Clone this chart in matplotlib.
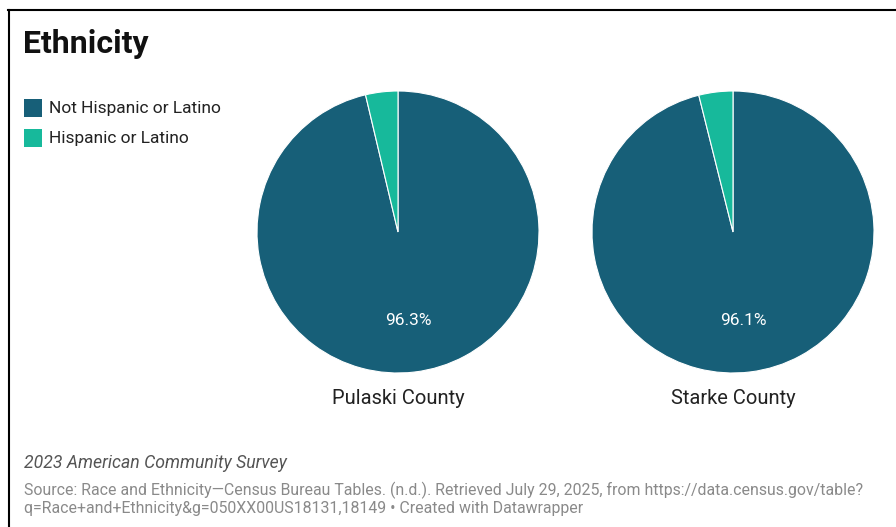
import numpy as np
import matplotlib.pyplot as plt
from matplotlib.lines import Line2D
from matplotlib.patches import Rectangle

plt.rcParams['font.family'] = ['Roboto', 'DejaVu Sans']

counties = ['Pulaski County', 'Starke County']
categories = ['Not Hispanic or Latino', 'Hispanic or Latino']
not_hispanic = [96.3, 96.1]
hispanic = [3.7, 3.9]
colors = ['#175f78', '#17b99b']

W, H = 896, 527
fig = plt.figure(figsize=(W / 100, H / 100), dpi=100)

def px_axes(cx, cy, r):
    # axes box in pixel coords (top-left origin)
    return fig.add_axes([(cx - r) / W, (H - cy - r) / H, 2 * r / W, 2 * r / H])

centers = [(398, 232), (733, 232)]
for i, (cx, cy) in enumerate(centers):
    ax = px_axes(cx, cy, 141)
    vals = [not_hispanic[i], hispanic[i]]
    wedges, _ = ax.pie(vals, colors=colors, startangle=90, counterclock=False,
                       radius=1, wedgeprops=dict(edgecolor='white', linewidth=0.8))
    # label for the big slice
    w = wedges[0]
    mid = np.deg2rad((w.theta1 + w.theta2) / 2)
    ax.text(0.63 * np.cos(mid), 0.63 * np.sin(mid), f'{vals[0]:.1f}%',
            ha='center', va='center', color='white', fontsize=12.5)
    ax.set_xlim(-1, 1)
    ax.set_ylim(-1, 1)
    ax.set_aspect('equal')
    ax.axis('off')
    fig.text(cx / W, 1 - 398 / H, counties[i], ha='center', va='center',
             fontsize=14.5, color='#222222')

# title
fig.text(23 / W, 1 - 44 / H, 'Ethnicity', fontsize=23, fontweight='bold',
         ha='left', va='center', color='#111111')

# legend
for j, (lab, c) in enumerate(zip(categories, colors)):
    y = 108 + 30 * j
    fig.add_artist(Rectangle((24 / W, 1 - (y + 9) / H), 18 / W, 18 / H,
                             transform=fig.transFigure, facecolor=c, edgecolor='none'))
    fig.text(49 / W, 1 - y / H, lab, fontsize=12.5, ha='left', va='center', color='#222222')

# footer
fig.text(24 / W, 1 - 463 / H, '2023 American Community Survey', fontsize=12.7,
         fontstyle='italic', ha='left', va='center', color='#555555')
fig.text(24 / W, 1 - 490 / H,
         'Source: Race and Ethnicity\u2014Census Bureau Tables. (n.d.). Retrieved July 29, 2025, from https://data.census.gov/table?',
         fontsize=11.4, ha='left', va='center', color='#8a8a8a')
fig.text(24 / W, 1 - 509 / H,
         'q=Race+and+Ethnicity&g=050XX00US18131,18149 \u2022 Created with Datawrapper',
         fontsize=11.4, ha='left', va='center', color='#8a8a8a')

# frame lines
fig.add_artist(Line2D([8 / W, 1], [1 - 10 / H, 1 - 10 / H], transform=fig.transFigure,
                      color='black', linewidth=1.5))
fig.add_artist(Line2D([9 / W, 9 / W], [0, 1 - 10 / H], transform=fig.transFigure,
                      color='black', linewidth=1.5))

fig.savefig('out.png', dpi=100)
